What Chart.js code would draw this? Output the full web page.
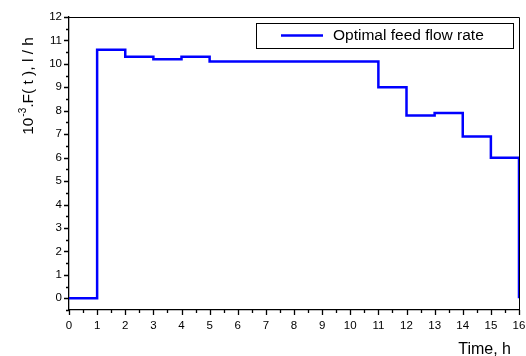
<!DOCTYPE html>
<html>
<head>
<meta charset="utf-8">
<script src="https://cdn.jsdelivr.net/npm/chart.js@4/dist/chart.umd.min.js"></script>
<style>
  html, body { margin: 0; padding: 0; background: #fff; }
  #wrap { width: 526px; height: 356px; position: relative; }
</style>
</head>
<body>
<div id="wrap"><canvas id="c" width="526" height="356"></canvas></div>
<script>
// ---- data ----
const times = [0, 1, 2, 3, 4, 5, 6, 7, 8, 9, 10, 11, 12, 13, 14, 15, 16];
const flowRates = [0, 10.6, 10.3, 10.2, 10.3, 10.1, 10.1, 10.1, 10.1, 10.1, 10.1, 9.0, 7.8, 7.9, 6.9, 6.0, 0];
const seriesLabel = 'Optimal feed flow rate';
const xTickValues = [0, 1, 2, 3, 4, 5, 6, 7, 8, 9, 10, 11, 12, 13, 14, 15, 16];
const yTickValues = [0, 1, 2, 3, 4, 5, 6, 7, 8, 9, 10, 11, 12];
const xTitle = 'Time, h';
const yTitleParts = ['10', '-3', '.F( t ), l / h'];

const FONT = '"Liberation Sans", Arial, sans-serif';

const points = times.map((t, i) => ({ x: t, y: flowRates[i] }));

const decorPlugin = {
  id: 'decor',
  afterDraw(chart) {
    const ctx = chart.ctx;
    const xs = chart.scales.x, ys = chart.scales.y;
    const a = chart.chartArea;
    ctx.save();
    // frame top & right
    ctx.strokeStyle = '#000';
    ctx.lineWidth = 1;
    ctx.beginPath();
    ctx.moveTo(a.left, a.top + 0.5);
    ctx.lineTo(a.right + 0.5, a.top + 0.5);
    ctx.lineTo(a.right + 0.5, a.bottom);
    ctx.stroke();
    // tick marks
    ctx.lineWidth = 1.3;
    ctx.beginPath();
    for (let v = xs.min; v <= xs.max + 1e-9; v += 0.5) {
      const px = Math.round(xs.getPixelForValue(v)) + 0.5;
      const major = Math.abs(v - Math.round(v)) < 1e-9;
      ctx.moveTo(px, a.bottom);
      ctx.lineTo(px, a.bottom + (major ? 5 : 3));
    }
    for (let v = ys.min; v <= ys.max + 1e-9; v += 0.5) {
      const py = Math.round(ys.getPixelForValue(v)) + 0.5;
      const major = Math.abs(v - Math.round(v)) < 1e-9;
      ctx.moveTo(a.left, py);
      ctx.lineTo(a.left - (major ? 5 : 3), py);
    }
    ctx.stroke();

    // x title
    ctx.fillStyle = '#000';
    ctx.font = '16px ' + FONT;
    ctx.textAlign = 'right';
    ctx.textBaseline = 'alphabetic';
    ctx.fillText(xTitle, 511, 354);

    // y title rotated with superscript
    ctx.save();
    ctx.translate(33, 86);
    ctx.rotate(-Math.PI / 2);
    ctx.font = '15.5px ' + FONT;
    const w0 = ctx.measureText(yTitleParts[0]).width;
    ctx.font = '10px ' + FONT;
    const w1 = ctx.measureText(yTitleParts[1]).width;
    ctx.font = '15.5px ' + FONT;
    const w2 = ctx.measureText(yTitleParts[2]).width;
    const total = w0 + w1 + 1 + w2;
    let x0 = -total / 2;
    ctx.textAlign = 'left';
    ctx.fillText(yTitleParts[0], x0, 0);
    ctx.font = '10px ' + FONT;
    ctx.fillText(yTitleParts[1], x0 + w0 + 1, -7);
    ctx.font = '15.5px ' + FONT;
    ctx.fillText(yTitleParts[2], x0 + w0 + w1 + 1, 0);
    ctx.restore();

    // legend box
    const ds = chart.data.datasets[0];
    ctx.strokeStyle = '#000';
    ctx.lineWidth = 1;
    ctx.strokeRect(256.5, 23.5, 257, 25);
    ctx.strokeStyle = ds.borderColor;
    ctx.lineWidth = 2.5;
    ctx.beginPath();
    ctx.moveTo(281, 35.5);
    ctx.lineTo(323, 35.5);
    ctx.stroke();
    ctx.fillStyle = '#000';
    ctx.font = '15.5px ' + FONT;
    ctx.textAlign = 'left';
    ctx.textBaseline = 'middle';
    ctx.fillText(ds.label, 333, 36);
    ctx.restore();
  }
};

new Chart(document.getElementById('c'), {
  type: 'line',
  data: {
    datasets: [{
      label: seriesLabel,
      data: points,
      stepped: 'before',
      borderColor: '#0000ff',
      borderWidth: 2.5,
      pointRadius: 0,
      fill: false,
      tension: 0
    }]
  },
  options: {
    responsive: false,
    animation: false,
    devicePixelRatio: 1,
    layout: { padding: { top: 17, right: 7, left: 0, bottom: 0 } },
    plugins: { legend: { display: false }, tooltip: { enabled: false } },
    scales: {
      x: {
        type: 'linear',
        min: 0, max: 16,
        afterFit(s) { s.height = 46; s.paddingRight = 0; s.paddingLeft = 0; },
        afterBuildTicks(s) { s.ticks = xTickValues.map(v => ({ value: v })); },
        grid: { display: false, drawTicks: false },
        border: { display: true, color: '#000', width: 1.3 },
        ticks: {
          autoSkip: false, maxRotation: 0,
          padding: 9,
          color: '#000',
          font: { family: FONT, size: 11.5 },
          callback: v => String(v)
        }
      },
      y: {
        type: 'linear',
        min: -0.5, max: 12,
        afterFit(s) { s.width = 69; s.paddingTop = 0; s.paddingBottom = 0; },
        afterBuildTicks(s) { s.ticks = yTickValues.map(v => ({ value: v })); },
        grid: { display: false, drawTicks: false },
        border: { display: true, color: '#000', width: 1.3 },
        ticks: {
          autoSkip: false,
          padding: 7,
          color: '#000',
          font: { family: FONT, size: 11.5 },
          callback: v => String(v)
        }
      }
    }
  },
  plugins: [decorPlugin]
});
</script>
</body>
</html>
